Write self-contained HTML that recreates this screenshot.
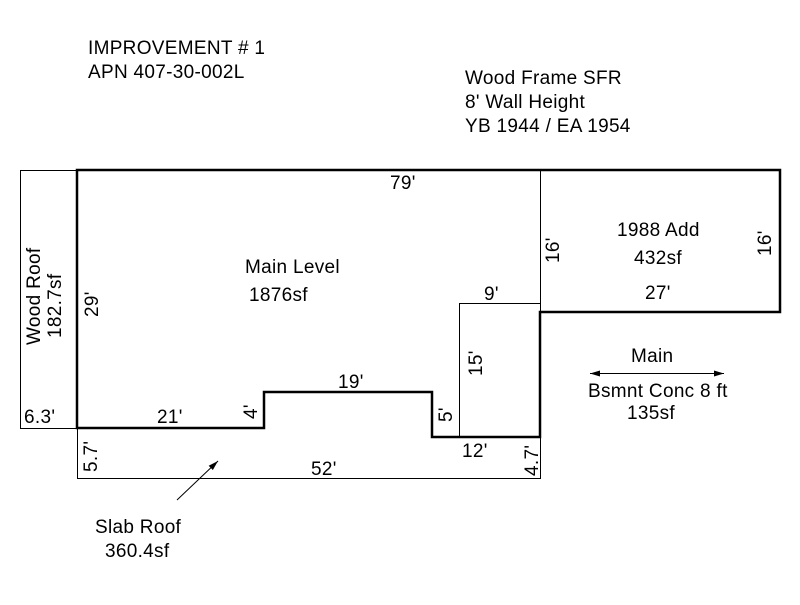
<!DOCTYPE html>
<html><head><style>body{margin:0;background:#fff}svg text{font-family:"Liberation Sans",Arial,sans-serif;font-size:19px;fill:#000;letter-spacing:0.3px}</style></head><body>
<svg width="800" height="600" xmlns="http://www.w3.org/2000/svg">
<defs><marker id="a" viewBox="0 0 10 6" refX="10" refY="3" markerWidth="10" markerHeight="6" orient="auto-start-reverse" markerUnits="userSpaceOnUse"><path d="M0,0L10,3L0,6z" fill="#000"/></marker></defs>
<g fill="none" stroke="#000" stroke-width="1">
<rect x="20.5" y="170.5" width="57" height="258"/>
<polyline points="77.5,428 77.5,478.5 540.5,478.5 540.5,437"/>
<line x1="540.5" y1="170" x2="540.5" y2="312"/>
<polyline points="459.5,437 459.5,303.5 540.5,303.5"/>
<line x1="177" y1="500" x2="218" y2="461" marker-end="url(#a)"/>
<line x1="590" y1="373.5" x2="724" y2="373.5" marker-start="url(#a)" marker-end="url(#a)"/>
</g>
<polygon points="77,170 780,170 780,312 540,312 540,437 432,437 432,392 264,392 264,428 77,428" fill="none" stroke="#000" stroke-width="2.5"/>
<text x="88" y="54">IMPROVEMENT # 1</text>
<text x="88" y="78">APN 407-30-002L</text>
<text x="465" y="84">Wood Frame SFR</text>
<text x="465" y="108">8' Wall Height</text>
<text x="465" y="132">YB 1944 / EA 1954</text>
<text x="390" y="189">79'</text>
<text x="245" y="273">Main Level</text>
<text x="249" y="301">1876sf</text>
<text x="617" y="236">1988 Add</text>
<text x="634" y="264">432sf</text>
<text x="645" y="299">27'</text>
<text x="484" y="300">9'</text>
<text x="338" y="388">19'</text>
<text x="157" y="423">21'</text>
<text x="24" y="423">6.3'</text>
<text x="462" y="457">12'</text>
<text x="311" y="475">52'</text>
<text x="631" y="362">Main</text>
<text x="588" y="397">Bsmnt Conc 8 ft</text>
<text x="627" y="419">135sf</text>
<text x="95" y="533">Slab Roof</text>
<text x="105" y="557">360.4sf</text>
<g>
<text transform="translate(40,345) rotate(-90)">Wood Roof</text>
<text transform="translate(61,338) rotate(-90)">182.7sf</text>
<text transform="translate(98,317) rotate(-90)">29'</text>
<text transform="translate(257,419) rotate(-90)">4'</text>
<text transform="translate(97,472) rotate(-90)">5.7'</text>
<text transform="translate(559,263) rotate(-90)">16'</text>
<text transform="translate(771,256) rotate(-90)">16'</text>
<text transform="translate(482,376) rotate(-90)">15'</text>
<text transform="translate(452,422) rotate(-90)">5'</text>
<text transform="translate(538,476) rotate(-90)">4.7'</text>
</g>
</svg>
</body></html>
